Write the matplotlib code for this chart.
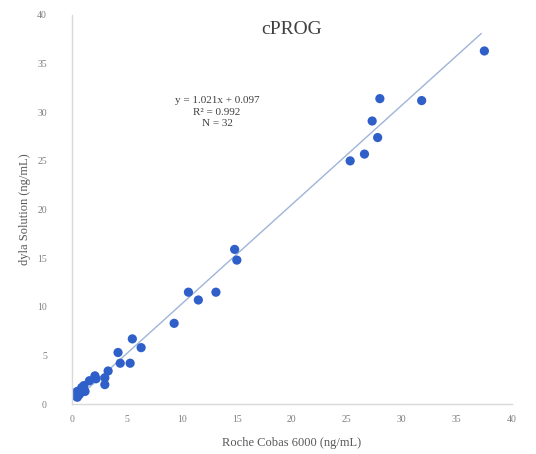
import matplotlib
matplotlib.use("Agg")
import matplotlib.pyplot as plt
import numpy as np

roche = [37.5, 28.0, 31.8, 27.3, 27.8, 26.6, 25.3, 14.8, 15.0, 10.6, 11.5, 13.1, 9.3,
         5.5, 6.3, 4.2, 4.4, 5.3, 3.3, 3.0, 3.0, 2.1, 1.6, 1.1, 0.9, 0.5, 0.4, 0.7,
         0.4, 1.2, 0.5, 2.2]
dyla = [36.3, 31.4, 31.2, 29.1, 27.4, 25.7, 25.0, 15.9, 14.8, 11.5, 10.7, 11.5, 8.3,
        6.7, 5.8, 5.3, 4.2, 4.2, 3.4, 2.7, 2.0, 2.9, 2.4, 1.9, 1.7, 1.3, 0.8, 1.0,
        1.2, 1.3, 0.7, 2.6]
slope, intercept = 1.021, 0.097
fit_x = [0.3, 37.2]
x_ticks = [0, 5, 10, 15, 20, 25, 30, 35, 40]
y_ticks = [0, 5, 10, 15, 20, 25, 30, 35, 40]

fig = plt.figure(figsize=(5.36, 4.54), dpi=100)
ax = fig.add_axes([0.134, 0.110, 0.821, 0.857])
serif = "Liberation Serif"

fx = np.array(fit_x)
ax.plot(fx, slope * fx + intercept, color="#9fb4d8", lw=1.0, zorder=1)
ax.scatter(roche, dyla, s=44, color="#2f5fc8", edgecolors="none", zorder=2)

ax.set_xlim(0, 40)
ax.set_ylim(0, 40)
ax.set_xticks(x_ticks)
ax.set_yticks(y_ticks)
ax.tick_params(axis="x", length=0, labelsize=7, colors="#7f7f7f", pad=8)
ax.tick_params(axis="y", length=0, labelsize=7, colors="#7f7f7f", pad=18)
for lab in ax.get_xticklabels() + ax.get_yticklabels():
    lab.set_family(serif)
for s in ["top", "right"]:
    ax.spines[s].set_visible(False)
for s in ["left", "bottom"]:
    ax.spines[s].set_color("#d9d9d9")
    ax.spines[s].set_linewidth(1.0)

ax.set_title("cPROG", family=serif, fontsize=14, color="#404040", y=0.93)
ax.text(0.33, 0.75, "y = 1.021x + 0.097\nR² = 0.992\nN = 32", transform=ax.transAxes,
        ha="center", va="center", family=serif, fontsize=8, color="#404040",
        linespacing=1.35)
ax.set_xlabel("Roche Cobas 6000 (ng/mL)", family=serif, fontsize=9, color="#595959", labelpad=9)
ax.set_ylabel("dyla Solution (ng/mL)", family=serif, fontsize=9, color="#595959", labelpad=4)

fig.savefig("out.png", dpi=100)
